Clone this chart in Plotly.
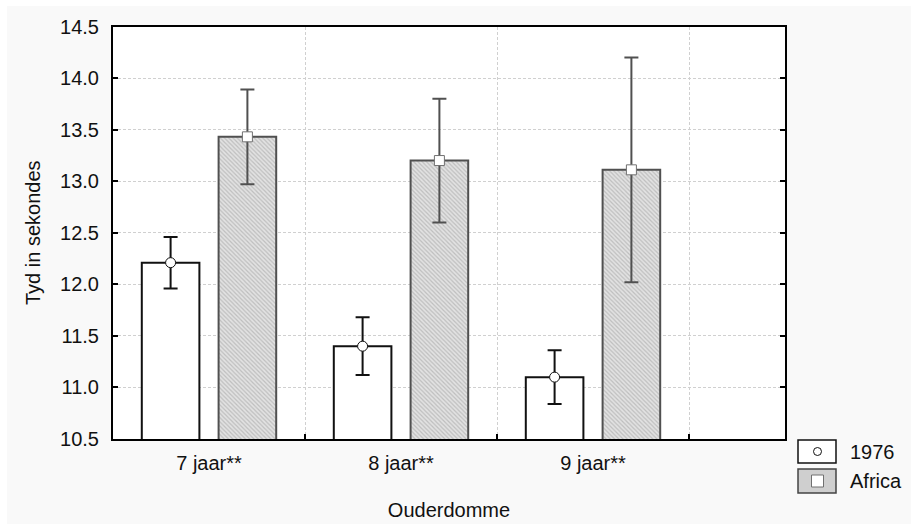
import plotly.graph_objects as go

# Mean times (seconds) per age group, with error bar half-widths
ages = ["7 jaar**", "8 jaar**", "9 jaar**"]
mean_1976 = [12.21, 11.40, 11.10]
err_1976 = [0.25, 0.28, 0.26]
mean_africa = [13.43, 13.20, 13.11]
err_africa = [0.46, 0.60, 1.09]
y_ticks = [10.5, 11.0, 11.5, 12.0, 12.5, 13.0, 13.5, 14.0, 14.5]
series_names = ["1976", "Africa"]

W, H = 911, 524
PL, PR, PT, PB = 113, 785, 26.5, 439  # plot box in pixels


def fx(px):
    return px / W


def fy(py):
    return 1 - py / H


FONT = dict(family="Liberation Sans, Arial, sans-serif", size=20, color="#111")

pos = list(range(1, len(ages) + 1))
bounds = [p + 0.5 for p in pos]
x_1976 = [p - 0.2 for p in pos]
x_africa = [p + 0.2 for p in pos]

fig = go.Figure()

fig.add_trace(go.Bar(
    x=pos, y=mean_1976, offset=-0.35, width=0.3,
    marker=dict(color="white", line=dict(color="#111", width=2)),
    showlegend=False, hoverinfo="skip",
))
fig.add_trace(go.Bar(
    x=pos, y=mean_africa, offset=0.05, width=0.3,
    marker=dict(
        color="#dcdcdc",
        line=dict(color="#505050", width=2),
        pattern=dict(shape="\\", fgcolor="#9a9a9a", bgcolor="#e2e2e2",
                     size=3, solidity=0.4),
    ),
    showlegend=False, hoverinfo="skip",
))

fig.add_trace(go.Scatter(
    x=x_1976, y=mean_1976, mode="markers", name=series_names[0],
    error_y=dict(type="data", array=err_1976, color="#111",
                 thickness=2, width=7),
    marker=dict(symbol="circle", size=10, color="white",
                line=dict(color="#111", width=1)),
    showlegend=False,
))
fig.add_trace(go.Scatter(
    x=x_africa, y=mean_africa, mode="markers", name=series_names[1],
    error_y=dict(type="data", array=err_africa, color="#505050",
                 thickness=2, width=7),
    marker=dict(symbol="square", size=10, color="white",
                line=dict(color="#707070", width=1)),
    showlegend=False,
))

grid = dict(gridcolor="#d0d0d0", griddash="3px,2px", gridwidth=1)

fig.update_xaxes(
    domain=[fx(PL), fx(PR)], range=[0.5, 4.0],
    tickmode="array", tickvals=pos, ticktext=ages, ticks="",
    showgrid=False, zeroline=False,
    showline=True, linecolor="#000", linewidth=2, mirror=True,
    minor=dict(tickmode="array", tickvals=bounds, ticks="inside",
               ticklen=5, tickcolor="#000", tickwidth=2, showgrid=True,
               **grid),
    tickfont=FONT, ticklabelstandoff=5, automargin=False,
    title=dict(text="Ouderdomme", font=FONT, standoff=30),
)
fig.update_yaxes(
    domain=[fy(PB), fy(PT)], range=[10.5, 14.5],
    tickmode="array", tickvals=y_ticks, tickformat=".1f",
    ticks="inside", ticklen=5, tickcolor="#000", tickwidth=2,
    showline=True, linecolor="#000", linewidth=2, mirror="ticks",
    showgrid=True, zeroline=False, **grid,
    tickfont=FONT, ticklabelstandoff=8, automargin=False,
    title=dict(text="Tyd in sekondes", font=FONT, standoff=14),
)

shapes = [
    # grey panel behind the whole chart
    dict(type="rect", xref="paper", yref="paper", layer="below",
         x0=fx(7), x1=fx(W), y0=fy(H), y1=fy(6),
         fillcolor="#f9f9f9", line=dict(width=0)),
    # white plotting area
    dict(type="rect", xref="paper", yref="paper", layer="below",
         x0=fx(PL), x1=fx(PR), y0=fy(PB), y1=fy(PT),
         fillcolor="white", line=dict(width=0)),
    # legend key: 1976
    dict(type="rect", xref="paper", yref="paper",
         x0=fx(798), x1=fx(836), y0=fy(463), y1=fy(440),
         fillcolor="white", line=dict(color="#111", width=1.5)),
    dict(type="circle", xref="paper", yref="paper",
         x0=fx(813.5), x1=fx(821.5), y0=fy(455.5), y1=fy(447.5),
         fillcolor="white", line=dict(color="#111", width=1)),
    # legend key: Africa
    dict(type="rect", xref="paper", yref="paper",
         x0=fx(798), x1=fx(836), y0=fy(493), y1=fy(469),
         fillcolor="#cfcfcf", line=dict(color="#444", width=1.5)),
    dict(type="rect", xref="paper", yref="paper",
         x0=fx(811.5), x1=fx(823.5), y0=fy(487), y1=fy(475),
         fillcolor="white", line=dict(color="#707070", width=1)),
]

annotations = [
    dict(text=series_names[0], xref="paper", yref="paper",
         x=fx(848), y=fy(451.5), xanchor="left", yanchor="middle",
         showarrow=False, font=FONT),
    dict(text=series_names[1], xref="paper", yref="paper",
         x=fx(848), y=fy(481), xanchor="left", yanchor="middle",
         showarrow=False, font=FONT),
]

fig.update_layout(
    width=W, height=H,
    margin=dict(l=0, r=0, t=0, b=0),
    paper_bgcolor="white", plot_bgcolor="rgba(0,0,0,0)",
    barmode="overlay", showlegend=False,
    shapes=shapes, annotations=annotations,
    font=FONT,
)

fig.write_html("out.html")
